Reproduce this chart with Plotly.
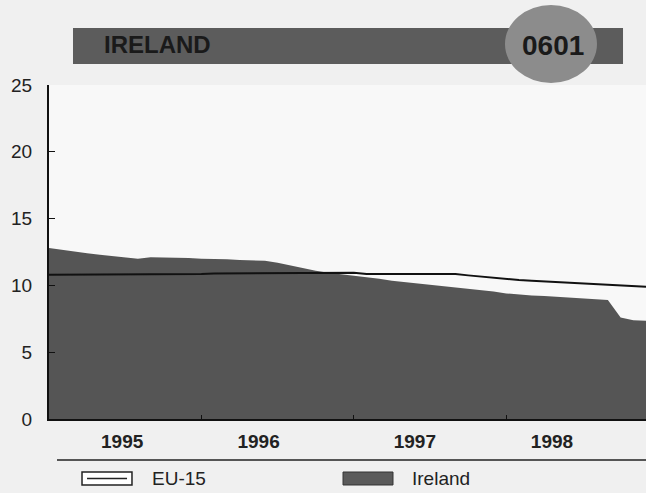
import plotly.graph_objects as go

# monthly values, Jan 1995 .. Dec 1998
years = [1995, 1996, 1997, 1998]
ireland = [12.8, 12.65, 12.5, 12.4, 12.3, 12.2, 12.1, 12.0, 12.1, 12.1, 12.1, 12.05,
           12.0, 12.0, 11.95, 11.9, 11.85, 11.85, 11.7, 11.5, 11.25, 11.1, 10.95, 10.85,
           10.7, 10.6, 10.5, 10.35, 10.25, 10.15, 10.05, 9.95, 9.85, 9.75, 9.7, 9.55,
           9.4, 9.3, 9.25, 9.2, 9.15, 9.1, 9.0, 8.95, 8.9, 7.6, 7.4, 7.35]
eu15 = [10.8, 10.8, 10.8, 10.8, 10.8, 10.8, 10.8, 10.8, 10.8, 10.85, 10.85, 10.85,
        10.85, 10.9, 10.9, 10.9, 10.9, 10.9, 10.9, 10.9, 10.9, 10.95, 10.95, 10.95,
        10.95, 10.85, 10.85, 10.85, 10.85, 10.85, 10.85, 10.85, 10.85, 10.75, 10.65, 10.6,
        10.5, 10.4, 10.35, 10.3, 10.2, 10.15, 10.1, 10.05, 10.0, 9.95, 9.9, 9.9]
y_ticks = [0, 5, 10, 15, 20, 25]

x = [1995 + i / 12 for i in range(len(ireland))]

fig = go.Figure()
fig.add_trace(go.Scatter(x=x, y=ireland, mode='lines', fill='tozeroy',
                         line=dict(width=0, color='#555555'), fillcolor='#555555',
                         name='Ireland', showlegend=False))
fig.add_trace(go.Scatter(x=x, y=eu15, mode='lines', line=dict(color='#111111', width=2),
                         name='EU-15', showlegend=False))

# year labels sit roughly where the print put them (not mid-year)
label_pos = [1995.48, 1996.375, 1997.40, 1998.30]

fig.update_layout(
    width=646, height=493,
    margin=dict(l=49, r=0, t=85, b=74),
    paper_bgcolor='#f0f0f0',
    plot_bgcolor='#f8f8f8',
    font=dict(family='Liberation Sans, Arial', size=19, color='#222222'),
    xaxis=dict(range=[1995, x[-1]], tickvals=label_pos, ticktext=[f'<b>{y}</b>' for y in years],
               ticks='', showgrid=False, zeroline=False, showline=True, linecolor='#111111',
               linewidth=2, tickfont=dict(size=19), ticklabelstandoff=4,
               minor=dict(tickvals=years[1:], ticks='inside', ticklen=4, tickcolor='#111111')),
    yaxis=dict(range=[0, 25], tickvals=y_ticks, ticks='inside', ticklen=6, tickcolor='#111111',
               showgrid=False, zeroline=False, showline=True, linecolor='#111111',
               linewidth=2, ticklabelstandoff=11, tickfont=dict(size=19)),
    shapes=[
        dict(type='rect', xref='paper', yref='paper', x0=0.0402, x1=0.9615, y0=1.0629, y1=1.1707,
             fillcolor='#5c5c5c', line=dict(width=0), layer='below'),
        dict(type='circle', xref='paper', yref='paper', x0=0.7638, x1=0.9179, y0=1.006, y1=1.2395,
             fillcolor='#8c8c8c', line=dict(width=0), layer='below'),
        dict(type='line', xref='paper', yref='paper', x0=0.0134, x1=1.0, y0=-0.1228, y1=-0.1228,
             line=dict(color='#222222', width=1.5)),
        dict(type='rect', xref='paper', yref='paper', x0=0.0553, x1=0.139, y0=-0.1976, y1=-0.1587,
             fillcolor='#ffffff', line=dict(color='#222222', width=1.5)),
        dict(type='line', xref='paper', yref='paper', x0=0.0637, x1=0.1307, y0=-0.178, y1=-0.178,
             line=dict(color='#222222', width=1.5)),
        dict(type='rect', xref='paper', yref='paper', x0=0.4925, x1=0.5762, y0=-0.1976, y1=-0.1587,
             fillcolor='#5a5a5a', line=dict(color='#333333', width=1)),
    ],
    annotations=[
        dict(text='<b>IRELAND</b>', xref='paper', yref='paper', x=0.0888, y=1.1198,
             xanchor='left', yanchor='middle', showarrow=False,
             font=dict(size=24, color='#1a1a1a')),
        dict(text='<b>0601</b>', xref='paper', yref='paper', x=0.8442, y=1.1168,
             xanchor='center', yanchor='middle', showarrow=False,
             font=dict(size=28, color='#1a1a1a')),
        dict(text='EU-15', xref='paper', yref='paper', x=0.169, y=-0.178,
             xanchor='left', yanchor='middle', showarrow=False, font=dict(size=19)),
        dict(text='Ireland', xref='paper', yref='paper', x=0.6047, y=-0.178,
             xanchor='left', yanchor='middle', showarrow=False, font=dict(size=19)),
    ],
)

fig.write_html("out.html", config={'displayModeBar': False},
               post_script="document.body.style.margin='0';")
